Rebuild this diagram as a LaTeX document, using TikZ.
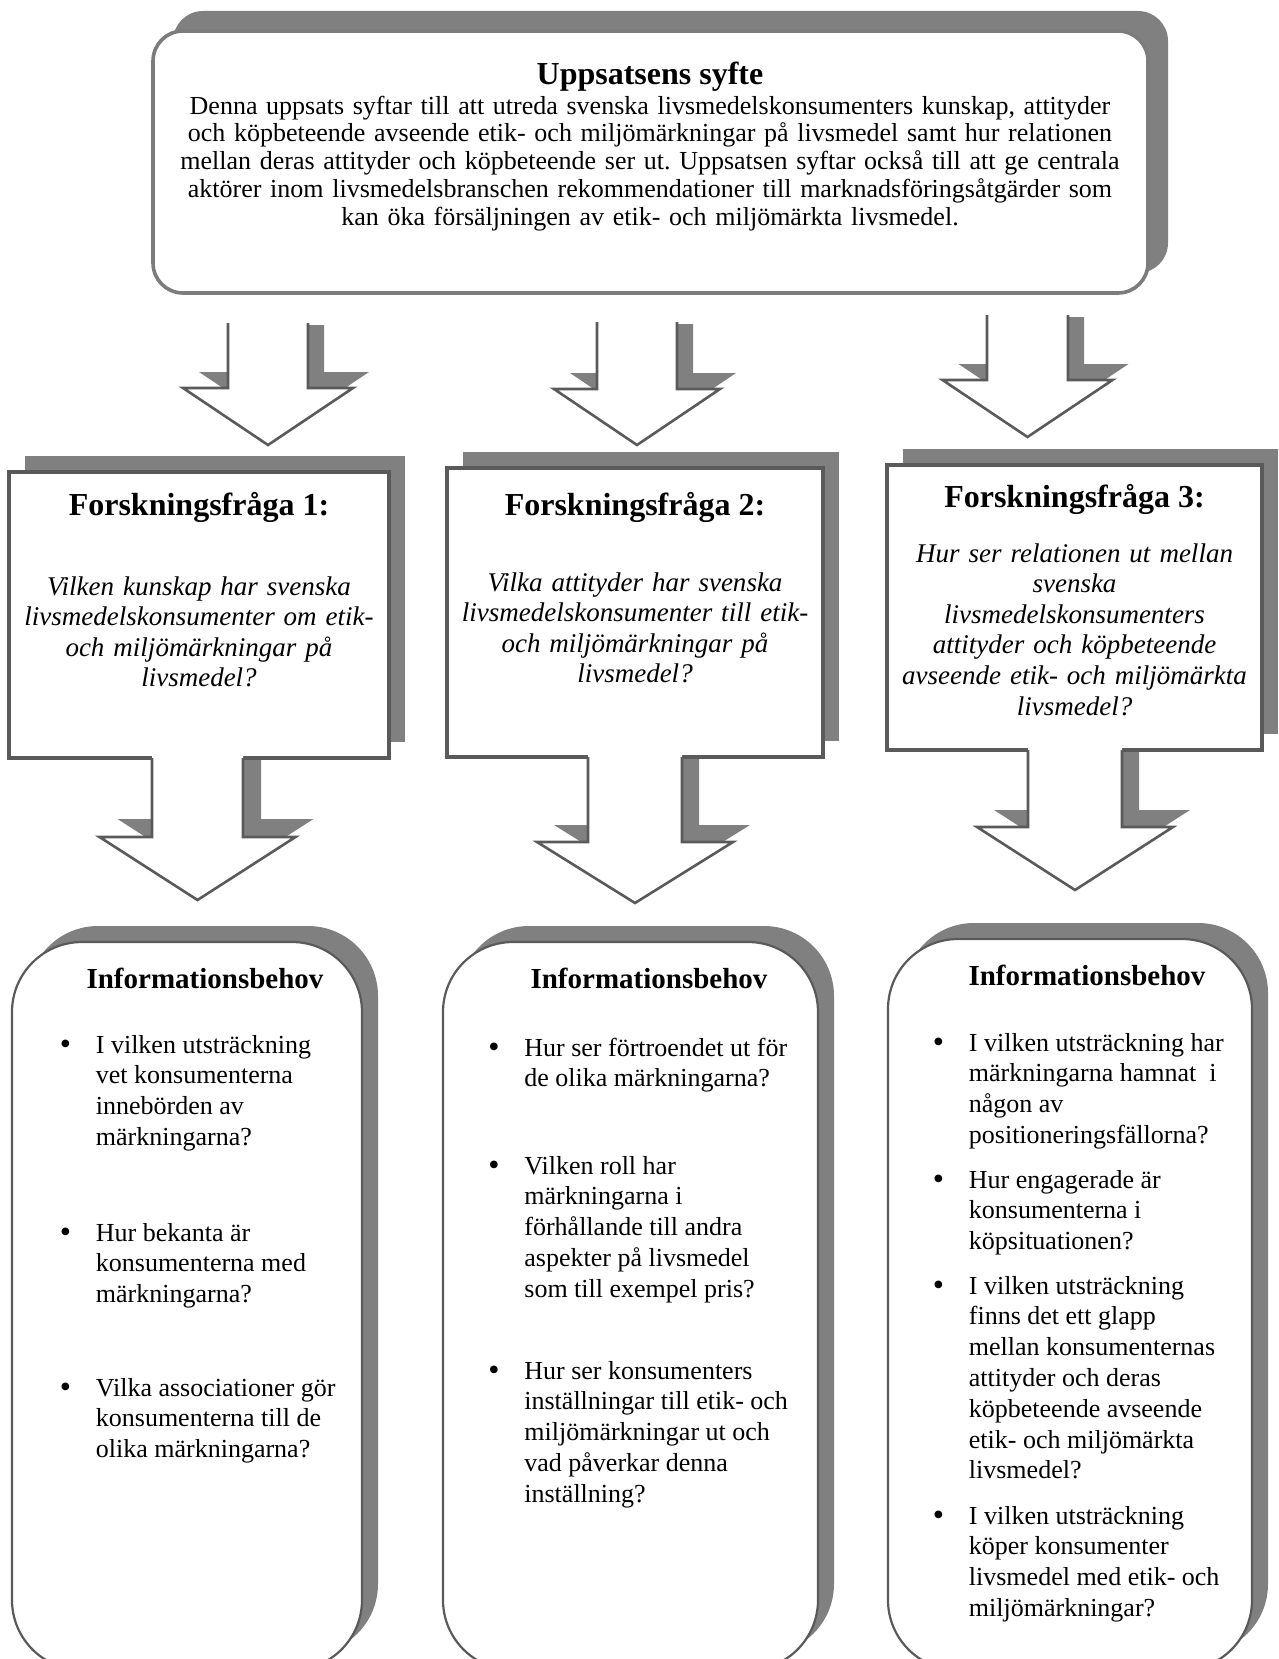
\documentclass[tikz,border=0pt]{standalone}
\usepackage{fontspec}
\setmainfont{Liberation Serif}
\frenchspacing
\definecolor{shadowgray}{HTML}{808080}
\definecolor{edge}{HTML}{5A5A5A}
\definecolor{softedge}{HTML}{7C7C7C}
\tikzset{
  boxshadow/.style={fill=shadowgray},
  rqbox/.style={draw=edge, line width=1.7pt, fill=white},
  aimbox/.style={draw=softedge, line width=1.8pt, fill=white, rounded corners=15pt},
  aimshadow/.style={fill=shadowgray, rounded corners=15pt},
  needbox/.style={draw=edge, line width=1.1pt, fill=white, rounded corners=35pt},
  needshadow/.style={fill=shadowgray, rounded corners=35pt},
  arrowline/.style={draw=edge, line width=1.3pt, line join=miter},
  bighead/.style={font=\fontsize{16}{19}\selectfont\bfseries, inner sep=0pt, anchor=base},
  needhead/.style={font=\fontsize{14.5}{17}\selectfont\bfseries, inner sep=0pt, anchor=base},
  aimtext/.style={font=\fontsize{13}{13.9}\selectfont, text width=520pt, align=center, inner sep=0pt, anchor=base},
  rqtext/.style={font=\fontsize{13.5}{15.3}\selectfont\itshape, text width=200pt, align=center, inner sep=0pt, anchor=base},
  needitem/.style={font=\fontsize{13}{15.4}\selectfont, inner sep=0pt, anchor=base west},
}
% bullet followed by a hanging block of lines
\newcommand\bullettext[1]{\makebox[18pt][l]{\raisebox{-0.8pt}{\fontsize{16}{16}\selectfont\textbullet}}\parbox[t]{175pt}{\raggedright #1}}
% block arrow pointing down: centre x, top y, stem half width, head half width,
% shoulder y, tip y, shadow offset
\newcommand\blockarrow[7]{%
  \fill[shadowgray] ({#1-#3+#7},{#2+2}) -- ({#1-#3+#7},{#5-#7}) -- ({#1-#4+#7},{#5-#7})
     -- ({#1+#7},{#6-#7}) -- ({#1+#4+#7},{#5-#7}) -- ({#1+#3+#7},{#5-#7})
     -- ({#1+#3+#7},{#2+2}) -- cycle;
  \fill[white] ({#1-#3},{#2-3}) -- ({#1-#3},#5) -- ({#1-#4},#5) -- (#1,#6)
     -- ({#1+#4},#5) -- ({#1+#3},#5) -- ({#1+#3},{#2-3}) -- cycle;
  \draw[arrowline] ({#1-#3},#2) -- ({#1-#3},#5) -- ({#1-#4},#5) -- (#1,#6)
     -- ({#1+#4},#5) -- ({#1+#3},#5) -- ({#1+#3},#2);
}
\begin{document}
\begin{tikzpicture}[x=0.5pt, y=-0.5pt]
\useasboundingbox (0,0) rectangle (1279,1659);
\clip (0,0) rectangle (1279,1659);

% ---- aim of the thesis ----
\fill[aimshadow] (173,11) rectangle (1168,273);
\draw[aimbox] (153,31) rectangle (1148,293);
\node[bighead] (aimtitle) at (650,85) {Uppsatsens syfte};
\node[aimtext] (aimbody) at (650,114) {Denna uppsats syftar till att utreda svenska livsmedelskonsumenters kunskap, attityder\\
och köpbeteende avseende etik- och miljömärkningar på livsmedel samt hur relationen\\
mellan deras attityder och köpbeteende ser ut. Uppsatsen syftar också till att ge centrala\\
aktörer inom livsmedelsbranschen rekommendationer till marknadsföringsåtgärder som\\
kan öka försäljningen av etik- och miljömärkta livsmedel.};

% ---- arrows from the aim ----
\blockarrow{268}{323}{40}{85}{388}{445}{16}
\blockarrow{637}{322}{40}{83}{389}{445}{16}
\blockarrow{1027.5}{315}{40.5}{85}{380}{437}{16}

% ---- research questions ----
\fill[boxshadow] (25,456) rectangle (405,742);
\draw[rqbox] (9,472) rectangle (389,758);
\fill[boxshadow] (463,452) rectangle (839,741);
\draw[rqbox] (447,468) rectangle (823,757);
\fill[boxshadow] (903,449) rectangle (1278,734);
\draw[rqbox] (887,465) rectangle (1262,750);

\node[bighead] (rq1title) at (199,515) {Forskningsfråga 1:};
\node[rqtext] (rq1text) at (199,595) {Vilken kunskap har svenska\\
livsmedelskonsumenter om etik-\\
och miljömärkningar på\\
livsmedel?};

\node[bighead] (rq2title) at (635,515) {Forskningsfråga 2:};
\node[rqtext] (rq2text) at (635,591) {Vilka attityder har svenska\\
livsmedelskonsumenter till etik-\\
och miljömärkningar på\\
livsmedel?};

\node[bighead] (rq3title) at (1074.5,507) {Forskningsfråga 3:};
\node[rqtext] (rq3text) at (1074.5,562) {Hur ser relationen ut mellan\\
svenska\\
livsmedelskonsumenters\\
attityder och köpbeteende\\
avseende etik- och miljömärkta\\
livsmedel?};

% ---- arrows from the research questions ----
\blockarrow{197.5}{758}{45.5}{98}{837}{900}{18}
\blockarrow{635}{757}{47}{98}{842}{903}{17}
\blockarrow{1075}{750}{47}{98}{827}{890}{17}

% ---- information needs ----
\fill[needshadow] (28,926) rectangle (378,1654);
\draw[needbox] (12,942) rectangle (362,1670);
\fill[needshadow] (459,926) rectangle (834,1654);
\draw[needbox] (443,942) rectangle (818,1670);
\fill[needshadow] (904,923) rectangle (1268,1654);
\draw[needbox] (888,939) rectangle (1252,1670);

\node[needhead] (need1title) at (205,988) {Informationsbehov};
\node[needitem] (need1a) at (59.5,1053) {\bullettext{I vilken utsträckning\\ vet konsumenterna\\ innebörden av\\ märkningarna?}};
\node[needitem] (need1b) at (59.5,1241) {\bullettext{Hur bekanta är\\ konsumenterna med\\ märkningarna?}};
\node[needitem] (need1c) at (59.5,1396) {\bullettext{Vilka associationer gör\\ konsumenterna till de\\ olika märkningarna?}};

\node[needhead] (need2title) at (649,988) {Informationsbehov};
\node[needitem] (need2a) at (488,1056) {\bullettext{Hur ser förtroendet ut för\\ de olika märkningarna?}};
\node[needitem] (need2b) at (488,1174) {\bullettext{Vilken roll har\\ märkningarna i\\ förhållande till andra\\ aspekter på livsmedel\\ som till exempel pris?}};
\node[needitem] (need2c) at (488,1379) {\bullettext{Hur ser konsumenters\\ inställningar till etik- och\\ miljömärkningar ut och\\ vad påverkar denna\\ inställning?}};

\node[needhead] (need3title) at (1087,985) {Informationsbehov};
\node[needitem] (need3a) at (932.5,1051) {\bullettext{I vilken utsträckning har\\ märkningarna hamnat\ \ i\\ någon av\\ positioneringsfällorna?}};
\node[needitem] (need3b) at (932.5,1188) {\bullettext{Hur engagerade är\\ konsumenterna i\\ köpsituationen?}};
\node[needitem] (need3c) at (932.5,1294) {\bullettext{I vilken utsträckning\\ finns det ett glapp\\ mellan konsumenternas\\ attityder och deras\\ köpbeteende avseende\\ etik- och miljömärkta\\ livsmedel?}};
\node[needitem] (need3d) at (932.5,1524) {\bullettext{I vilken utsträckning\\ köper konsumenter\\ livsmedel med etik- och\\ miljömärkningar?}};
\end{tikzpicture}
\end{document}
